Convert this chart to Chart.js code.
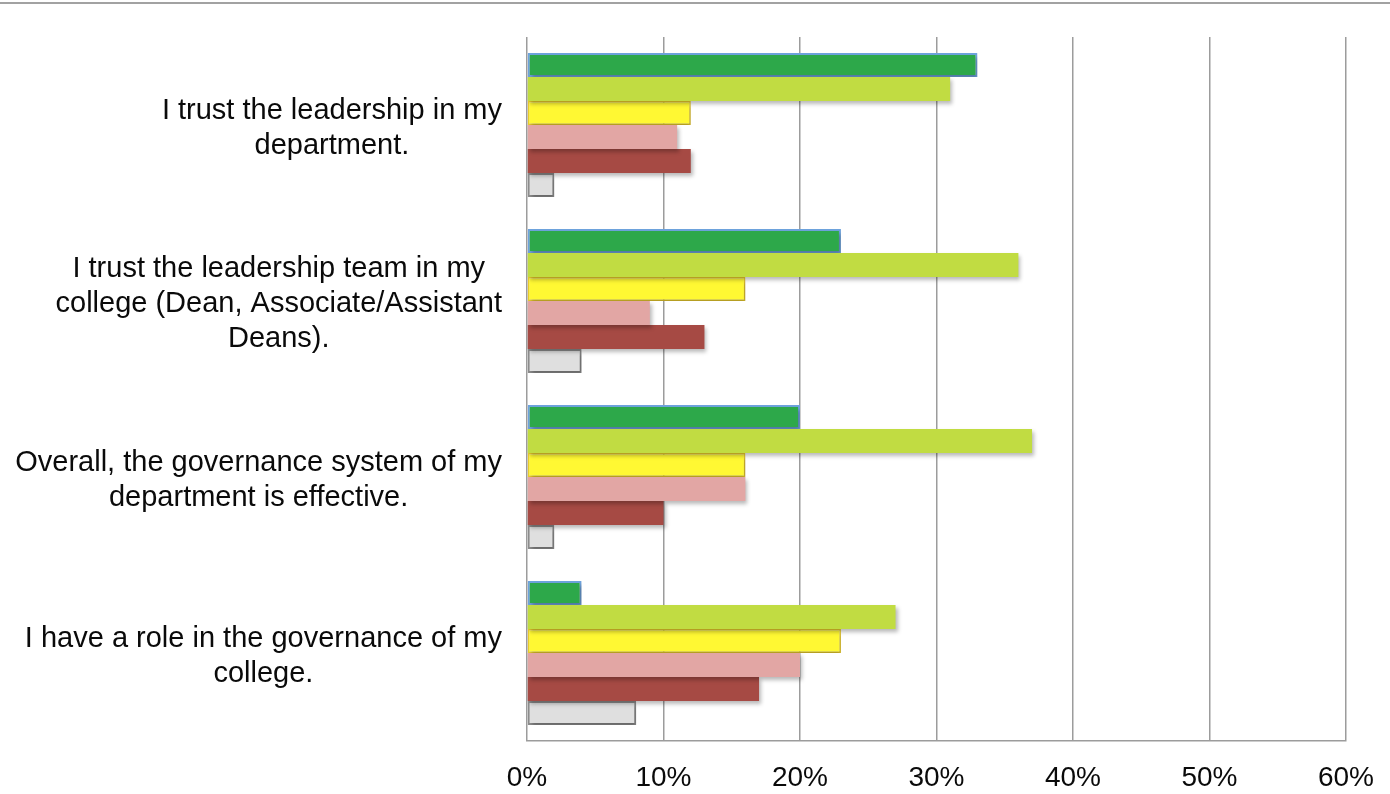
<!DOCTYPE html>
<html lang="en">
<head>
  <meta charset="UTF-8">
  <title>Governance and Leadership Survey</title>
  <script src="https://cdn.jsdelivr.net/npm/chart.js"></script>
  <style>
    body {
      margin: 0;
      background: #fff;
      font-family: 'Liberation Sans', Arial, sans-serif;
    }
    #wrap {
      position: relative;
      width: 1390px;
      height: 794px;
    }
    #topRule {
      position: absolute;
      left: 0;
      top: 2px;
      width: 1390px;
      height: 2px;
      background: #a2a2a2;
    }
  </style>
</head>
<body>
  <div id="wrap">
    <canvas id="surveyChart"></canvas>
    <div id="topRule"></div>
  </div>

  <script>
    // survey statements, one array of lines per statement
    const statements = [
      ['I trust the leadership in my', 'department.'],
      ['I trust the leadership team in my', 'college (Dean, Associate/Assistant', 'Deans).'],
      ['Overall, the governance system of my', 'department is effective.'],
      ['I have a role in the governance of my', 'college.']
    ];

    const responses = ['Strongly agree', 'Agree', 'Neutral', 'Disagree', 'Strongly disagree', 'No answer'];

    // percent of respondents, per statement
    const stronglyAgree = [33, 23, 20, 4];
    const agree = [31, 36, 37, 27];
    const neutral = [12, 16, 16, 23];
    const disagree = [11, 9, 16, 20];
    const stronglyDisagree = [12, 13, 10, 17];
    const noAnswer = [2, 4, 2, 8];

    const xTicks = [0, 10, 20, 30, 40, 50, 60];

    const fills = ['#2da84a', '#c1dc42', '#fff833', '#e2a6a4', '#a64a44', '#dfdfdf'];
    const edges = ['#6ea3dd', '#c1dc42', '#f2d22e', '#e2a6a4', '#a64a44', '#8e8e8e'];
    const edgeWidths = [2, 0, 1.5, 0, 0, 2];

    const seriesValues = [stronglyAgree, agree, neutral, disagree, stronglyDisagree, noAnswer];

    // soft drop shadow under the bars
    const barShadow = {
      id: 'barShadow',
      beforeDatasetsDraw(chart) {
        const c = chart.ctx;
        c.save();
        c.shadowColor = 'rgba(0, 0, 0, 0.28)';
        c.shadowBlur = 4;
        c.shadowOffsetX = 2;
        c.shadowOffsetY = 3;
      },
      afterDatasetsDraw(chart) {
        chart.ctx.restore();
      }
    };

    // statement text: each block centred on itself, right edge next to the axis
    const statementLabels = {
      id: 'statementLabels',
      afterDraw(chart) {
        const c = chart.ctx;
        const y = chart.scales.y;
        const rightEdge = chart.chartArea.left - 25;
        const lineH = 35;
        c.save();
        c.font = '29px "Liberation Sans", Arial, sans-serif';
        c.fillStyle = '#0a0a0a';
        c.textAlign = 'center';
        c.textBaseline = 'middle';
        statements.forEach((lines, i) => {
          const widest = Math.max(...lines.map(l => c.measureText(l).width));
          const cx = rightEdge - widest / 2;
          const cy = y.getPixelForValue(i) + 3;
          const top = cy - (lines.length - 1) * lineH / 2;
          lines.forEach((l, k) => c.fillText(l, cx, top + k * lineH));
        });
        c.restore();
      }
    };

    const ctx = document.getElementById('surveyChart').getContext('2d');
    new Chart(ctx, {
      type: 'bar',
      data: {
        labels: statements.map(l => l.join(' ')),
        datasets: responses.map((name, i) => ({
          label: name,
          data: seriesValues[i],
          backgroundColor: fills[i],
          borderColor: edges[i],
          borderWidth: edgeWidths[i],
          borderSkipped: false,
          categoryPercentage: 0.818,
          barPercentage: 1
        }))
      },
      options: {
        indexAxis: 'y',
        responsive: true,
        maintainAspectRatio: false,
        animation: false,
        layout: {
          padding: { top: 37, left: 527, right: 44, bottom: 0 }
        },
        scales: {
          x: {
            min: 0,
            max: 60,
            afterBuildTicks(scale) {
              scale.ticks = xTicks.map(v => ({ value: v }));
            },
            afterFit(scale) {
              scale.height = 53;
              scale.paddingLeft = 0;
              scale.paddingRight = 0;
            },
            grid: {
              color: '#9c9c9c',
              lineWidth: 1.5,
              drawTicks: false
            },
            border: {
              color: '#9c9c9c',
              width: 1.5
            },
            ticks: {
              padding: 20,
              color: '#0a0a0a',
              font: { family: '"Liberation Sans", Arial, sans-serif', size: 28 },
              callback: v => v + '%'
            }
          },
          y: {
            display: false
          }
        },
        plugins: {
          legend: { display: false },
          tooltip: { enabled: false }
        }
      },
      plugins: [barShadow, statementLabels]
    });
  </script>
</body>
</html>
